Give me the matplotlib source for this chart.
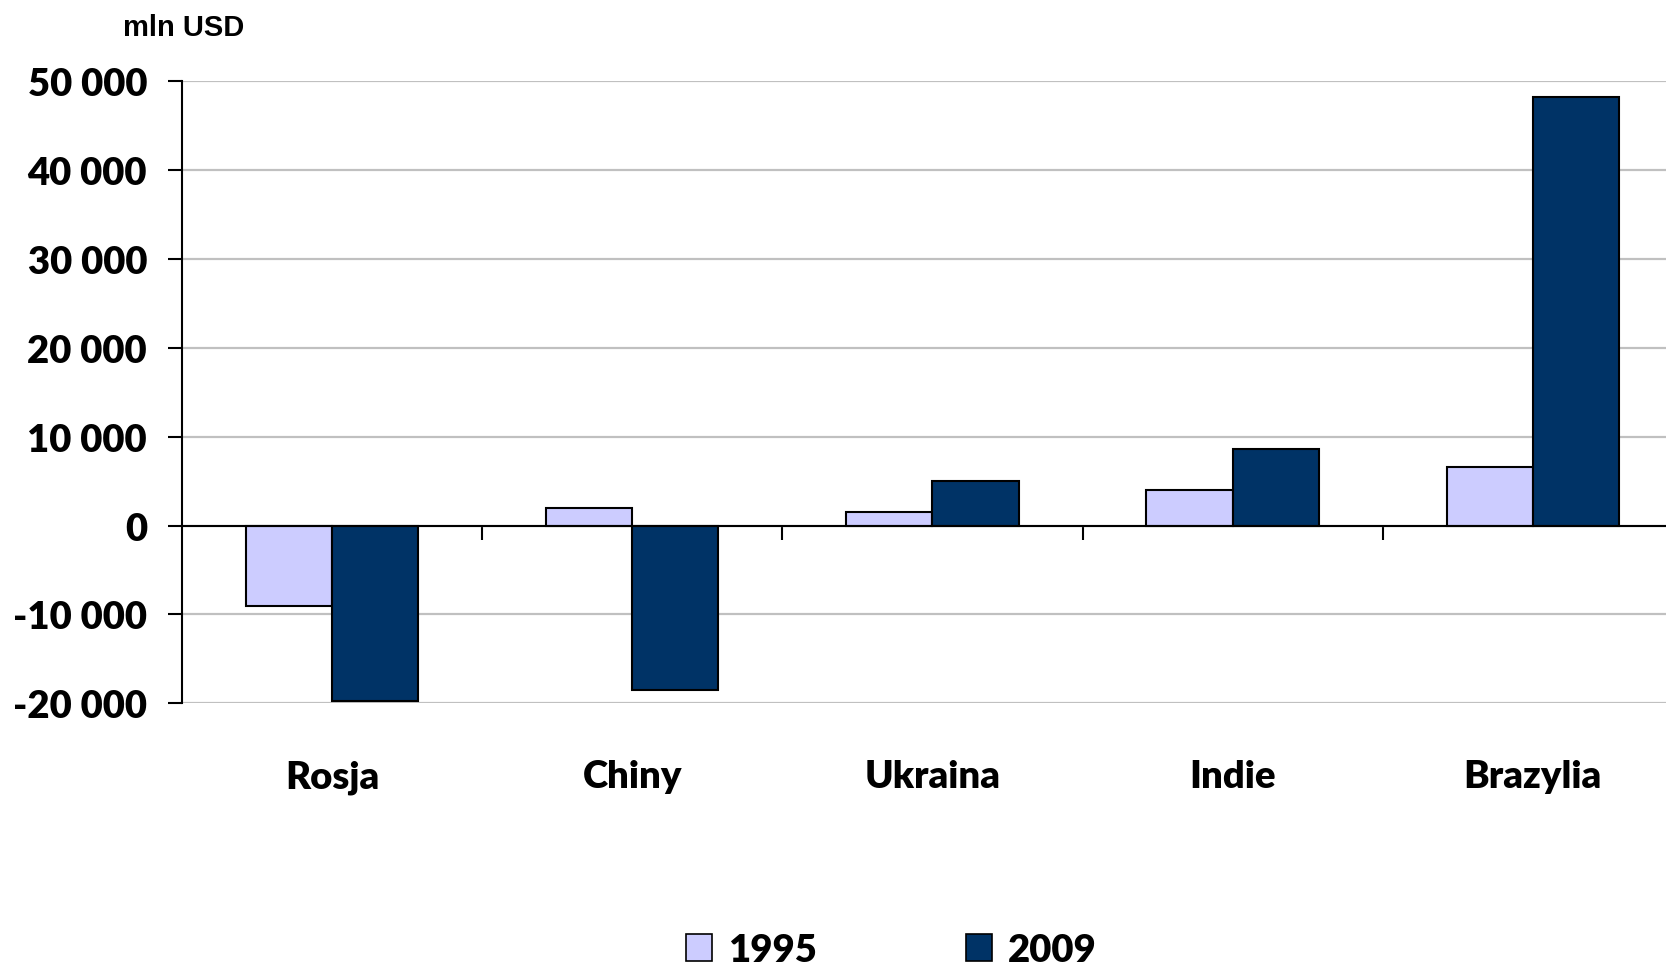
import matplotlib
matplotlib.use("Agg")
import matplotlib.pyplot as plt
import matplotlib.transforms as mtransforms
from matplotlib.ticker import FuncFormatter, FixedLocator
from matplotlib.patches import Patch
import numpy as np

categories = ["Rosja", "Chiny", "Ukraina", "Indie", "Brazylia"]
series_names = ["1995", "2009"]
values_1995 = [-9000, 2000, 1500, 4000, 6600]
values_2009 = [-19700, -18500, 5000, 8600, 48200]
colors = ["#CCCCFF", "#003366"]
y_ticks = [-20000, -10000, 0, 10000, 20000, 30000, 40000, 50000]
unit_label = "mln USD"

FONT = "Lato"

fig = plt.figure(figsize=(16.66, 9.70), dpi=100)
ax = fig.add_axes([0.1091, 0.2738, 0.9011, 0.6419])

x = np.arange(len(categories))
w = 0.287
ax.bar(x - w / 2, values_1995, width=w, color=colors[0], edgecolor="black", linewidth=1.5, zorder=3)
ax.bar(x + w / 2, values_2009, width=w, color=colors[1], edgecolor="black", linewidth=1.5, zorder=3)

ax.set_xlim(-0.5, len(categories) - 0.5)
ax.set_ylim(y_ticks[0], y_ticks[-1])

ax.yaxis.set_major_locator(FixedLocator(y_ticks))
ax.yaxis.set_major_formatter(FuncFormatter(lambda v, p: f"{v:,.0f}".replace(",", " ")))
ax.grid(axis="y", color="#c0c0c0", linewidth=1.6, zorder=0)
ax.set_axisbelow(True)

for s in ["top", "right"]:
    ax.spines[s].set_visible(False)
ax.spines["left"].set_linewidth(1.5)
ax.spines["bottom"].set_position(("data", 0))
ax.spines["bottom"].set_linewidth(1.5)
ax.spines["bottom"].set_zorder(4)

ax.tick_params(axis="y", direction="out", length=10, width=1.5, pad=15,
               labelsize=27.5)
for lab in ax.get_yticklabels():
    lab.set_fontfamily(FONT)
    lab.set_fontweight("heavy")

ax.set_xticks([])
ax.set_xticks(x[:-1] + 0.5, minor=True)
ax.tick_params(axis="x", which="minor", direction="out", length=10, width=1.5)
ax.tick_params(axis="x", which="major", length=0)

trans = mtransforms.blended_transform_factory(ax.transData, ax.transAxes)
for i, c in enumerate(categories):
    ax.text(i, -0.117, c, transform=trans, ha="center", va="center",
            fontsize=27.5, fontweight="heavy", family=FONT)

fig.text(123 / 1666, 1 - 28 / 970, unit_label, ha="left", va="center",
         fontsize=21, fontweight="bold", family="Liberation Sans")

handles = [Patch(facecolor=colors[0], edgecolor="black", linewidth=1.2),
           Patch(facecolor=colors[1], edgecolor="black", linewidth=1.2)]
leg = fig.legend(handles, series_names, loc="center",
                 bbox_to_anchor=(891 / 1666, 1 - 951 / 970), ncol=2,
                 frameon=False, handlelength=0.7, handleheight=0.7,
                 handletextpad=0.4, columnspacing=3.9,
                 prop={"family": FONT, "weight": "heavy", "size": 27.5})

fig.savefig("out.png", dpi=100)
